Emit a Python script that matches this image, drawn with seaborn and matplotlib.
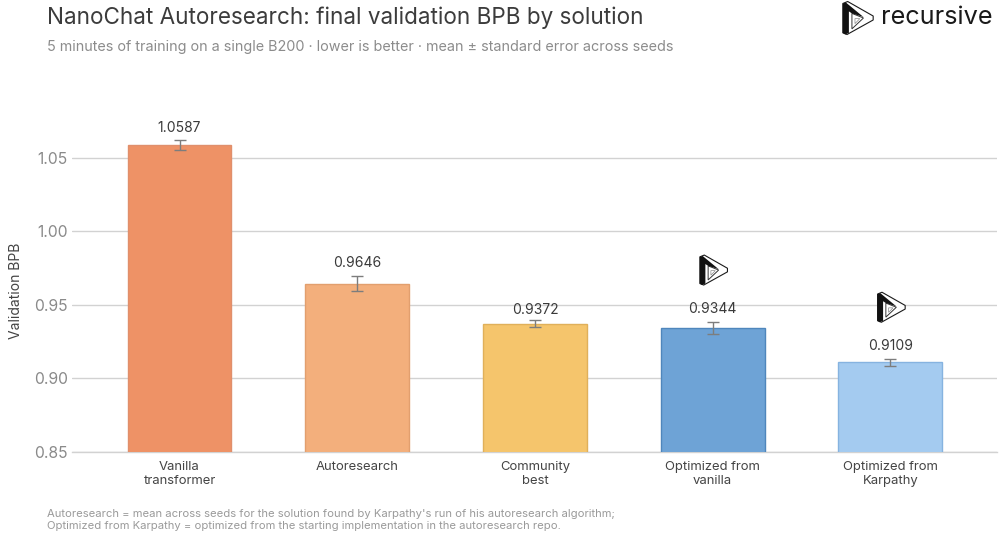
import matplotlib
matplotlib.use("Agg")
import matplotlib.pyplot as plt
from matplotlib.patches import Polygon
from matplotlib.transforms import Affine2D
import pandas as pd
import seaborn as sns

solutions = ["Vanilla\ntransformer", "Autoresearch", "Community\nbest",
             "Optimized from\nvanilla", "Optimized from\nKarpathy"]
bpb_mean = [1.0587, 0.9646, 0.9372, 0.9344, 0.9109]
bpb_stderr = [0.0033, 0.0048, 0.0024, 0.0040, 0.0022]
fill_colors = ["#EE9266", "#F3AF7C", "#F5C56C", "#6EA3D6", "#A4CBF0"]
edge_colors = ["#E08F6C", "#E29F6E", "#E0B05A", "#4F86BC", "#86B3E0"]
y_ticks = [0.85, 0.90, 0.95, 1.00, 1.05]
marked_solutions = [3, 4]

sns.set_theme(style="white")
plt.rcParams["font.family"] = ["Inter", "DejaVu Sans"]

W, H = 1002, 541
fig = plt.figure(figsize=(W / 100, H / 100), dpi=100)
ax = fig.add_axes([72 / W, 1 - 452 / H, (997 - 72) / W, (452 - 100) / H])

df = pd.DataFrame({"solution": solutions, "bpb": bpb_mean})
sns.barplot(data=df, x="solution", y="bpb", hue="solution", palette=fill_colors,
            legend=False, width=0.585, saturation=1, ax=ax, zorder=3)
for bar, edge in zip(ax.patches, edge_colors):
    bar.set_edgecolor(edge)
    bar.set_linewidth(1.0)

ax.errorbar(range(len(solutions)), bpb_mean, yerr=bpb_stderr, fmt="none",
            ecolor="#7d7d7d", elinewidth=1.0, capsize=4.5, capthick=1.0, zorder=4)

ax.set_xlim(-0.605, 4.6)
ax.set_ylim(0.85, 0.85 + 352 / 1470)
ax.set_yticks(y_ticks, [f"{t:.2f}" for t in y_ticks])
ax.yaxis.grid(True, color="#d2d2d2", linewidth=1.0, zorder=0)
ax.xaxis.grid(False)
ax.set_axisbelow(True)
for side in ["top", "right", "left"]:
    ax.spines[side].set_visible(False)
ax.spines["bottom"].set_color("#d2d2d2")
ax.spines["bottom"].set_linewidth(1.0)
ax.tick_params(axis="y", length=0, labelsize=11.3, labelcolor="#8a8a8a", pad=3)
ax.tick_params(axis="x", length=0, labelsize=9.4, labelcolor="#444444", pad=6.5)
for label in ax.get_xticklabels():
    label.set_linespacing(1.25)
ax.set_xlabel("")
ax.set_ylabel("Validation BPB", fontsize=10, color="#444444", labelpad=8, y=0.457)

label_gap = [3.5, 5, 2.5, 4.5, 4.5]
for i, (m, s) in enumerate(zip(bpb_mean, bpb_stderr)):
    ax.annotate(f"{m:.4f}", (i, m + s), xytext=(0, label_gap[i]), textcoords="offset points",
                ha="center", va="bottom", fontsize=10, color="#3a3a3a")


def draw_logo(cx, cy, size):
    """Impossible-triangle emblem, centred on (cx, cy) in display pixels."""
    t = Affine2D().translate(-0.5, -0.5).scale(size * 0.92, -size).translate(cx, cy)
    outer = [(0, .06), (.16, 0), (1, .44), (1, .56), (.14, 1), (0, .95)]
    solid = [(0, .06), (.10, .03), (.68, .47), (.30, .36), (.20, .30), (.20, .95), (.08, 1), (0, .95)]
    inner = [(.30, .36), (.68, .50), (.30, .83)]
    core = [(.40, .52), (.56, .52), (.40, .67)]
    fig.add_artist(Polygon(outer, closed=True, fc="white", ec="#1a1a1a", lw=0.8, transform=t))
    fig.add_artist(Polygon(inner, closed=True, fc="white", ec="#333333", lw=0.7, transform=t))
    fig.add_artist(Polygon(core, closed=True, fc="white", ec="#888888", lw=0.5, transform=t))
    fig.add_artist(Polygon(solid, closed=True, fc="#111111", ec="none", transform=t))


# Emblems sit above the bars for the two optimized solutions
fig.canvas.draw()
logo_lift = {3: 52, 4: 52}
for i in marked_solutions:
    px, py = ax.transData.transform((i, bpb_mean[i] + bpb_stderr[i]))
    draw_logo(px + 1, py + logo_lift[i], 30)

draw_logo(858, H - 18, 33)
fig.text(881 / W, 1 - 18 / H, "recursive", fontsize=18.2, color="#1a1a1a", ha="left", va="center")

fig.text(47 / W, 1 - 18 / H, "NanoChat Autoresearch: final validation BPB by solution",
         fontsize=16.2, color="#3c3c3c", ha="left", va="center")
fig.text(47 / W, 1 - 47 / H,
         "5 minutes of training on a single B200 · lower is better · mean ± standard error across seeds",
         fontsize=10.35, color="#8c8c8c", ha="left", va="center")
fig.text(47 / W, 1 - 520 / H,
         "Autoresearch = mean across seeds for the solution found by Karpathy's run of his autoresearch algorithm;\n"
         "Optimized from Karpathy = optimized from the starting implementation in the autoresearch repo.",
         fontsize=8.1, color="#9a9a9a", ha="left", va="center", linespacing=1.25)

fig.savefig("out.png", dpi=100)
